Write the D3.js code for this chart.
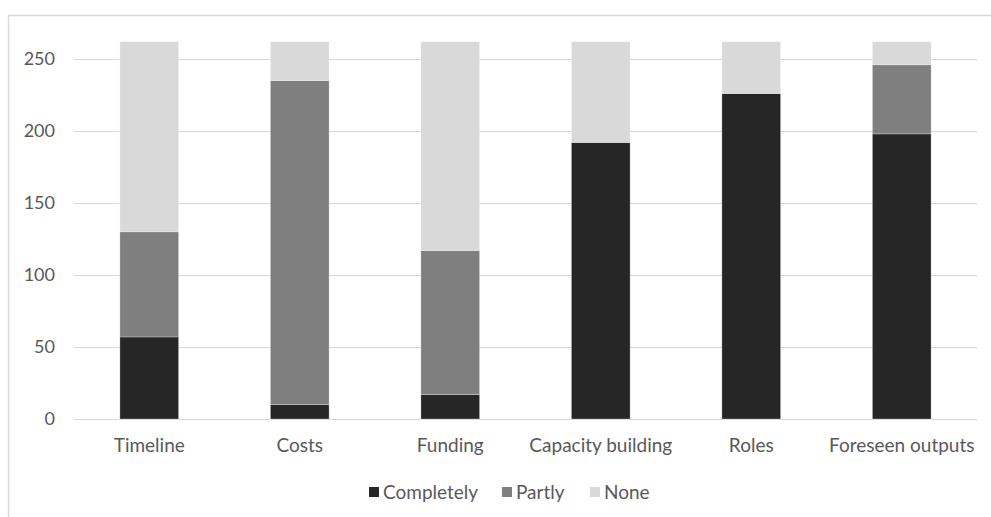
<!DOCTYPE html>
<html>
<head>
<meta charset="utf-8">
<script src="https://cdn.jsdelivr.net/npm/d3@7"></script>
<style>
  html, body { margin: 0; padding: 0; background: #fff; }
  svg { display: block; font-family: Lato, "Open Sans", sans-serif; }
</style>
</head>
<body>
<svg id="chart" width="991" height="517"></svg>
<script>
// Stacked survey responses per plan element
const categories = ["Timeline", "Costs", "Funding", "Capacity building", "Roles", "Foreseen outputs"];
const completely = [57, 10, 17, 192, 226, 198];
const partly     = [73, 225, 100, 0, 0, 48];
const none       = [132, 27, 145, 70, 36, 16];
const seriesNames = ["Completely", "Partly", "None"];
const seriesColors = ["#262626", "#7f7f7f", "#d9d9d9"];
const yTicks = [0, 50, 100, 150, 200, 250];

const rows = categories.map((c, i) => ({
  category: c, Completely: completely[i], Partly: partly[i], None: none[i]
}));

const svg = d3.select("#chart");
const W = 991, H = 517;
const plotBottom = 419;

// outer frame
svg.append("rect")
  .attr("x", 8.5).attr("y", 15.5)
  .attr("width", W + 10).attr("height", H + 10)
  .attr("fill", "none").attr("stroke", "#d9d9d9").attr("stroke-width", 1.5);

const x = d3.scaleBand()
  .domain(categories)
  .range([74, 977])
  .paddingInner(0.61)
  .paddingOuter(0.305);

const y = d3.scaleLinear()
  .domain([0, 250])
  .range([plotBottom, 59]);

// gridlines
svg.append("g")
  .selectAll("line")
  .data(yTicks)
  .join("line")
  .attr("x1", 74).attr("x2", 977)
  .attr("y1", d => Math.round(y(d)) + 0.5)
  .attr("y2", d => Math.round(y(d)) + 0.5)
  .attr("stroke", "#d9d9d9").attr("stroke-width", 1);

// y axis labels
const yAxis = d3.axisLeft(y).tickValues(yTicks).tickSize(0).tickPadding(0);
const yg = svg.append("g").attr("transform", "translate(55,0)").call(yAxis);
yg.select(".domain").remove();
yg.selectAll("text")
  .attr("fill", "#595959")
  .style("font-size", "18px")
  .style("font-family", "Lato, 'Open Sans', sans-serif");

// stacked bars
const stack = d3.stack().keys(seriesNames);
const layers = stack(rows);
svg.append("g")
  .selectAll("g")
  .data(layers)
  .join("g")
  .attr("fill", (d, i) => seriesColors[i])
  .selectAll("rect")
  .data(d => d.filter(s => s[1] - s[0] > 0))
  .join("rect")
  .attr("x", d => x(d.data.category))
  .attr("width", x.bandwidth())
  .attr("y", d => y(d[1]))
  .attr("height", d => y(d[0]) - y(d[1]))
  .attr("stroke", "#ffffff")
  .attr("stroke-opacity", 0.35)
  .attr("stroke-width", 0.75);

// x axis labels
const xAxis = d3.axisBottom(x).tickSize(0).tickPadding(0);
const xg = svg.append("g").attr("transform", "translate(0,452)").call(xAxis);
xg.select(".domain").remove();
xg.selectAll("text")
  .attr("fill", "#595959")
  .attr("y", 0)
  .attr("dy", 0)
  .style("font-size", "19px")
  .style("font-family", "Lato, 'Open Sans', sans-serif");

// legend
const legendItems = [
  { name: "Completely", color: seriesColors[0], x: 369 },
  { name: "Partly", color: seriesColors[1], x: 502 },
  { name: "None", color: seriesColors[2], x: 590 }
];
const lg = svg.append("g");
const li = lg.selectAll("g").data(legendItems).join("g")
  .attr("transform", d => `translate(${d.x},487)`);
li.append("rect").attr("width", 10).attr("height", 10).attr("fill", d => d.color);
li.append("text")
  .attr("x", 14).attr("y", 5).attr("dy", "0.36em")
  .attr("fill", "#595959")
  .style("font-size", "19px")
  .text(d => d.name);
</script>
</body>
</html>
